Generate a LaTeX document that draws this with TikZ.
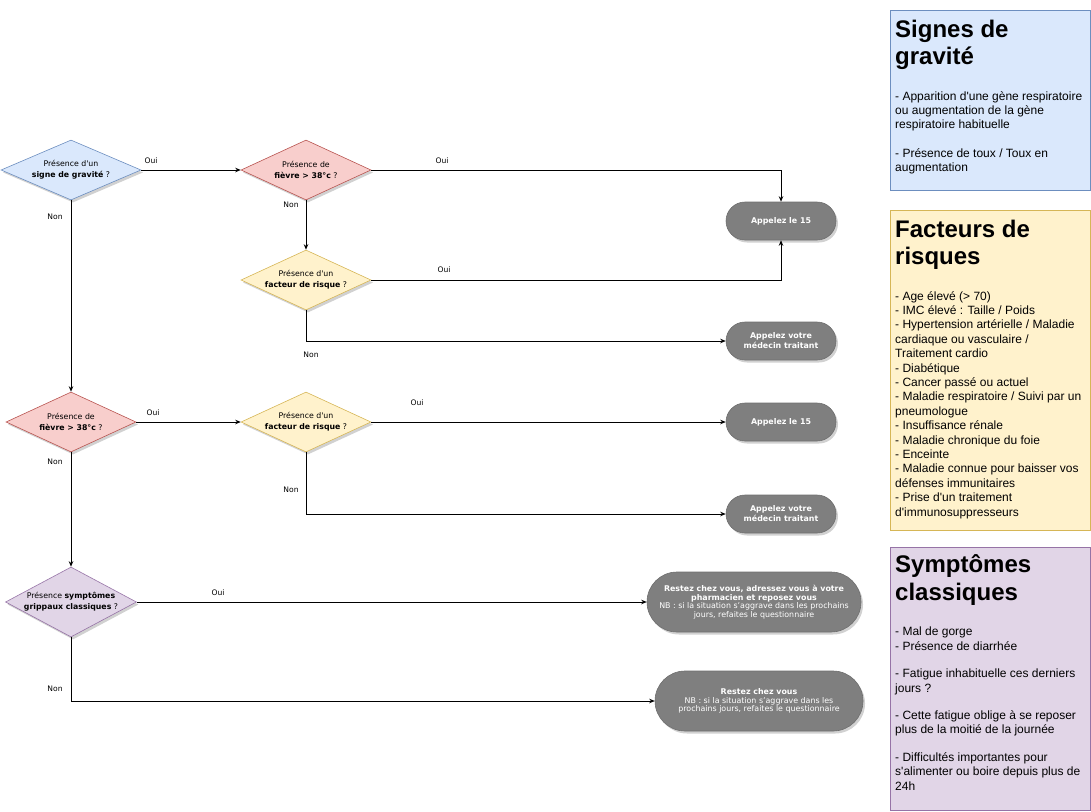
\documentclass[tikz,border=0pt]{standalone}
\usepackage{fontspec}
\setmainfont{Liberation Sans}[Ligatures=TeXOff]
\newfontfamily\vfont{DejaVu Sans}[Ligatures=TeXOff]
\usetikzlibrary{shapes.geometric,arrows.meta,shadows}
\definecolor{bluef}{HTML}{DAE8FC}\definecolor{blued}{HTML}{6C8EBF}
\definecolor{redf}{HTML}{F8CECC}\definecolor{redd}{HTML}{B85450}
\definecolor{yelf}{HTML}{FFF2CC}\definecolor{yeld}{HTML}{D6B656}
\definecolor{purf}{HTML}{E1D5E7}\definecolor{purd}{HTML}{9673A6}
\definecolor{termf}{HTML}{7F7F7F}\definecolor{termd}{HTML}{6E6E6E}
\tikzset{
  shad/.style={drop shadow={shadow xshift=2pt,shadow yshift=-2.5pt,fill=black,opacity=0.18}},
  dec/.style={diamond, draw, line width=0.6pt, inner sep=0pt, minimum width=130pt, minimum height=60pt, shad},
  dtext/.style={align=center, inner sep=0pt, font=\vfont\fontsize{7.8}{11}\selectfont},
  term/.style={rectangle, rounded corners=19pt, fill=termf, draw=termd, line width=0.6pt, minimum width=110pt, minimum height=38pt, inner sep=1pt, text=white, align=center, font=\vfont\fontsize{7.9}{10}\selectfont, shad},
  bigterm/.style={term, rounded corners=30pt, minimum height=60pt, font=\vfont\fontsize{7.9}{8.6}\selectfont},
  lbl/.style={inner sep=0pt, font=\vfont\fontsize{7.6}{8}\selectfont},
  arr/.style={-{Stealth[length=5.5pt,width=4.5pt]}, line width=0.7pt},
  panel/.style={draw, line width=0.8pt},
  ptitle/.style={anchor=base west, inner sep=0pt, font=\bfseries\fontsize{24}{28}\selectfont},
  pbody/.style={anchor=north west, inner sep=0pt, align=left, font=\fontsize{12}{14.4}\selectfont},
}
\begin{document}
\begin{tikzpicture}[x=1pt,y=-1pt]
\useasboundingbox (0,0) rectangle (1091,811);
% diamonds
\node[dec, fill=bluef, draw=blued, minimum width=140pt] (d1) at (71,170) {};
\node[dtext] (d1t) at (d1) {Présence d'un\\\textbf{signe de gravité} ?};
\node[dec, fill=redf, draw=redd] (d2) at (306,170) {};
\node[dtext] (d2t) at (d2) {Présence de\\\textbf{fièvre > 38°c} ?};
\node[dec, fill=yelf, draw=yeld] (d3) at (306,280) {};
\node[dtext] (d3t) at (d3) {Présence d'un\\\textbf{facteur de risque} ?};
\node[dec, fill=redf, draw=redd] (d4) at (71,422) {};
\node[dtext] (d4t) at (d4) {Présence de\\\textbf{fièvre > 38°c} ?};
\node[dec, fill=yelf, draw=yeld] (d5) at (306,422) {};
\node[dtext] (d5t) at (d5) {Présence d'un\\\textbf{facteur de risque} ?};
\node[dec, fill=purf, draw=purd, minimum width=131pt, minimum height=70pt] (d6) at (71,602) {};
\node[dtext] (d6t) at (d6) {Présence \textbf{symptômes}\\\textbf{grippaux classiques} ?};
% terminals
\node[term] (a1) at (781,221) {\textbf{Appelez le 15}};
\node[term] (m1) at (781,341) {\textbf{Appelez votre}\\\textbf{médecin traitant}};
\node[term] (a2) at (781,422) {\textbf{Appelez le 15}};
\node[term] (m2) at (781,514) {\textbf{Appelez votre}\\\textbf{médecin traitant}};
\node[bigterm, minimum width=214pt] (r1) at (754,602) {\textbf{Restez chez vous, adressez vous à votre}\\\textbf{pharmacien et reposez vous}\\NB : si la situation s’aggrave dans les prochains\\jours, refaites le questionnaire};
\node[bigterm, minimum width=208pt] (r2) at (759,701) {\textbf{Restez chez vous}\\NB : si la situation s’aggrave dans les\\prochains jours, refaites le questionnaire};
% connectors
\draw[arr] (d1.east) -- (d2.west);
\draw[arr] (d2.east) -| (a1.north);
\draw[arr] (d2.south) -- (d3.north);
\draw[arr] (d3.east) -| (a1.south);
\draw[arr] (d3.south) |- (m1.west);
\draw[arr] (d1.south) -- (d4.north);
\draw[arr] (d4.east) -- (d5.west);
\draw[arr] (d5.east) -- (a2.west);
\draw[arr] (d5.south) |- (m2.west);
\draw[arr] (d4.south) -- (d6.north);
\draw[arr] (d6.east) -- (r1.west);
\draw[arr] (d6.south) |- (r2.west);
% labels
\node[lbl] (l1) at (151,161) {Oui};
\node[lbl] (l2) at (442,161) {Oui};
\node[lbl] (l3) at (291,205) {Non};
\node[lbl] (l4) at (444,270) {Oui};
\node[lbl] (l5) at (311,355) {Non};
\node[lbl] (l6) at (55,217) {Non};
\node[lbl] (l7) at (153,413) {Oui};
\node[lbl] (l8) at (417,403) {Oui};
\node[lbl] (l9) at (291,490) {Non};
\node[lbl] (l10) at (55,462) {Non};
\node[lbl] (l11) at (218,593) {Oui};
\node[lbl] (l12) at (55,689) {Non};
% panels
\draw[panel, fill=bluef, draw=blued] (890,10) rectangle (1090,190);
\node[ptitle] (p1a) at (895,37) {Signes de};
\node[ptitle] (p1b) at (895,64) {gravité};
\node[pbody] (p1c) at (895,91) {- Apparition d'une gène respiratoire\\ou augmentation de la gène\\respiratoire habituelle\\[14pt]- Présence de toux / Toux en\\augmentation};
\draw[panel, fill=yelf, draw=yeld] (890,210) rectangle (1090,530);
\node[ptitle] (p2a) at (895,237) {Facteurs de};
\node[ptitle] (p2b) at (895,264) {risques};
\node[pbody] (p2c) at (895,291) {- Age élevé (> 70)\\- IMC élevé : Taille / Poids\\- Hypertension artérielle / Maladie\\cardiaque ou vasculaire /\\Traitement cardio\\- Diabétique\\- Cancer passé ou actuel\\- Maladie respiratoire / Suivi par un\\pneumologue\\- Insuffisance rénale\\- Maladie chronique du foie\\- Enceinte\\- Maladie connue pour baisser vos\\défenses immunitaires\\- Prise d'un traitement\\d'immunosuppresseurs};
\draw[panel, fill=purf, draw=purd] (890,547) rectangle (1090,810);
\node[ptitle] (p3a) at (895,572) {Symptômes};
\node[ptitle] (p3b) at (895,600) {classiques};
\node[pbody] (p3c) at (895,627) {- Mal de gorge\\- Présence de diarrhée\\[13pt]- Fatigue inhabituelle ces derniers\\jours ?\\[13pt]- Cette fatigue oblige à se reposer\\plus de la moitié de la journée\\[13pt]- Difficultés importantes pour\\s'alimenter ou boire depuis plus de\\24h};
\end{tikzpicture}
\end{document}
